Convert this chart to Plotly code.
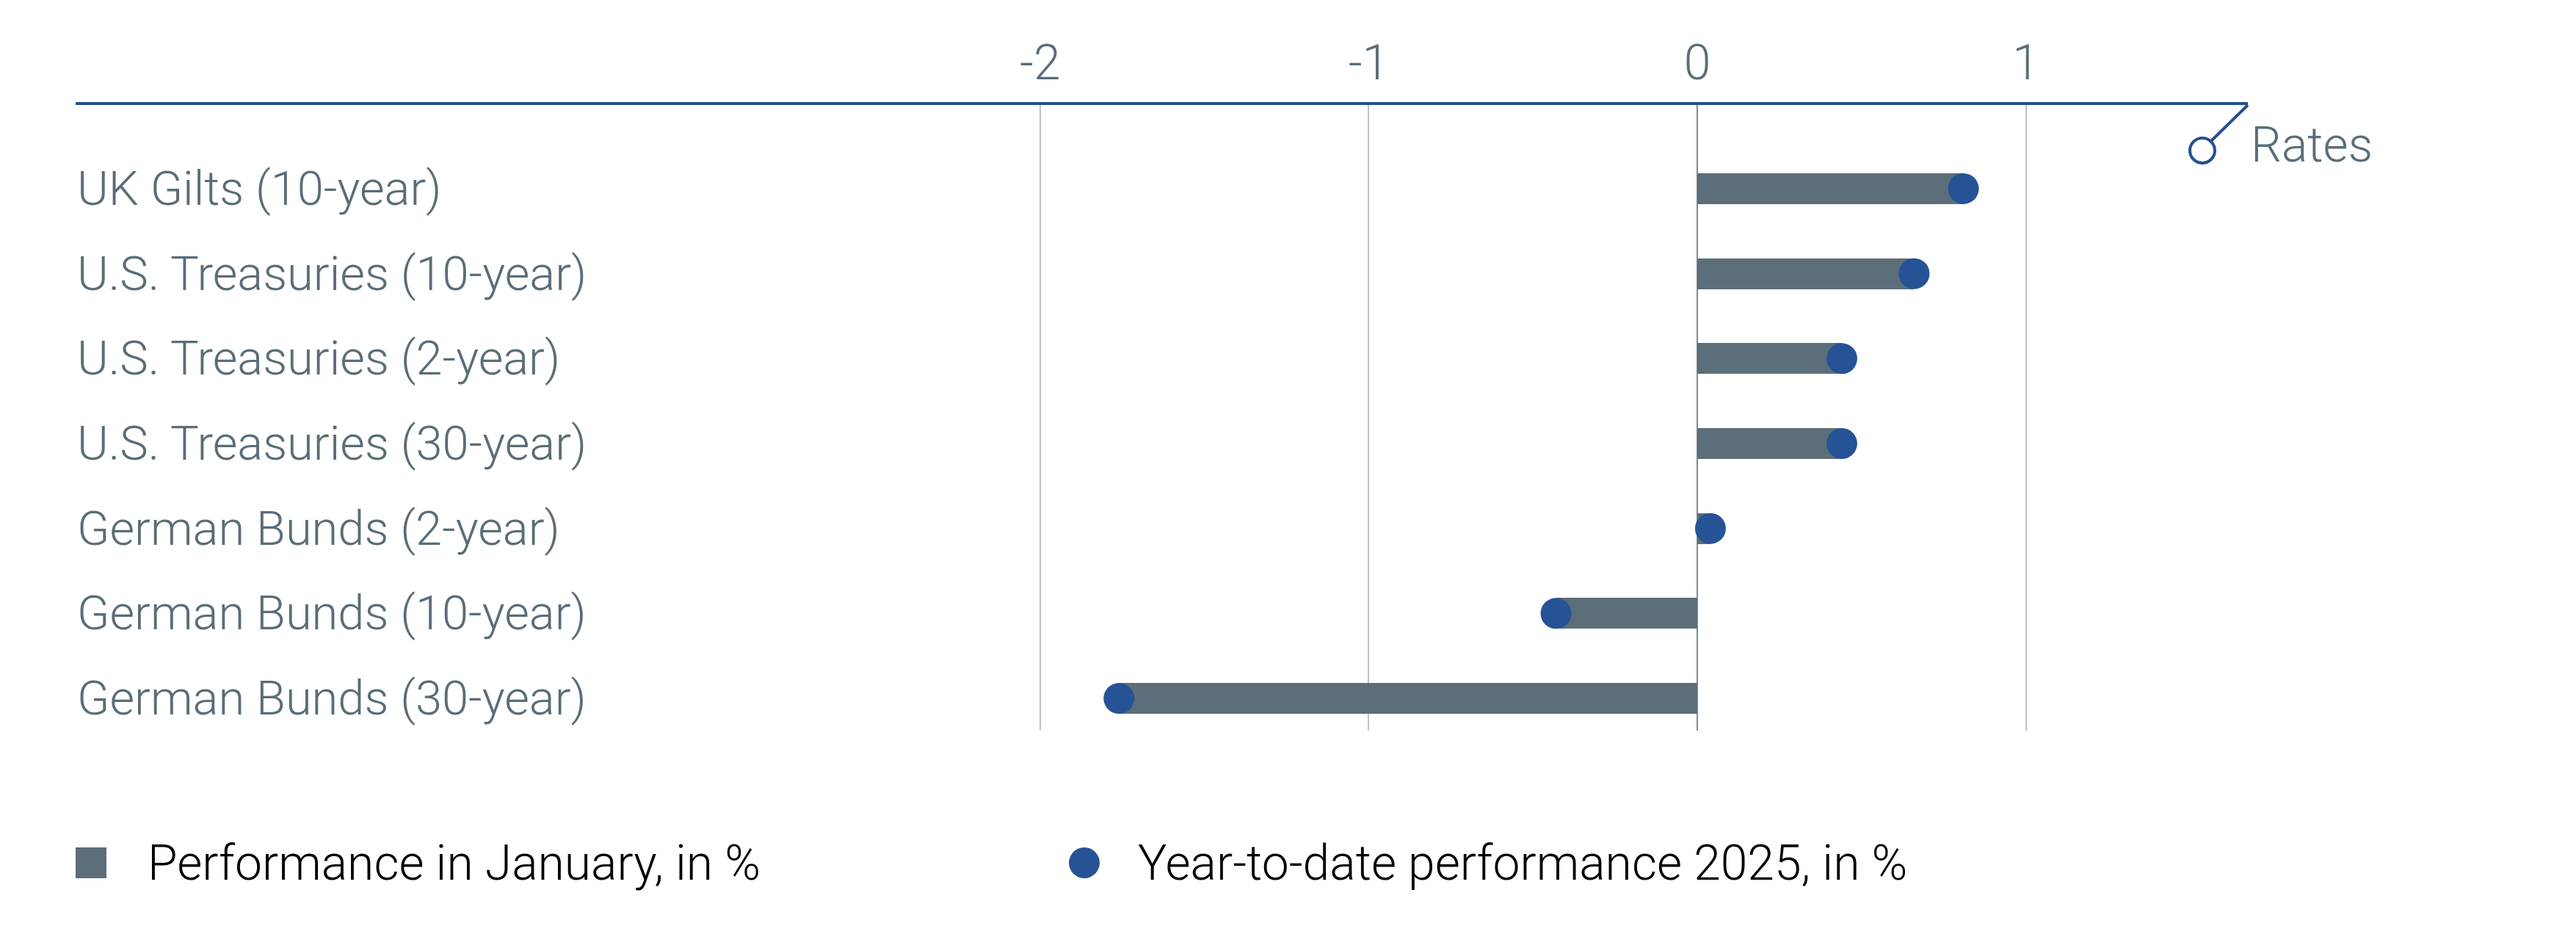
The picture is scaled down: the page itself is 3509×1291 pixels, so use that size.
import plotly.graph_objects as go

# ---------------- data ----------------
categories = [
    "UK Gilts (10-year)",
    "U.S. Treasuries (10-year)",
    "U.S. Treasuries (2-year)",
    "U.S. Treasuries (30-year)",
    "German Bunds (2-year)",
    "German Bunds (10-year)",
    "German Bunds (30-year)",
]
january_perf = [0.81, 0.66, 0.44, 0.44, 0.04, -0.43, -1.76]
ytd_perf = [0.81, 0.66, 0.44, 0.44, 0.04, -0.43, -1.76]
tick_vals = [-2, -1, 0, 1]
tick_text = ["-2", "-1", "0", "1"]
legend_names = ["Performance in January, in %", "Year-to-date performance 2025, in %"]
axis_title = "Rates"

# ---------------- styling ----------------
OFF = 8  # default page body margin
W_FIG, H_FIG = 3509 - 2 * OFF, 1291 - 2 * OFF
L = 103 - OFF
T = 143 - OFF
R = W_FIG - (3062 - OFF)
B = H_FIG - (995 - OFF)
PW, PH = W_FIG - L - R, H_FIG - T - B

BAR_COLOR = "#5b6e79"
DOT_COLOR = "#265396"
AXIS_COLOR = "#24508f"
TEXT_GRAY = "#5a6d78"
FONT = "Roboto, Liberation Sans, Arial, sans-serif"
FS = 66
FS_CAT = 65


def px(x):  # reference-pixel x -> paper
    return (x - OFF - L) / PW


def py(y):  # reference-pixel y -> paper
    return 1 - (y - OFF - T) / PH


# x range so that 0 sits at reference pixel 2312 with 447.6 px per unit
UNIT = 447.6
ZERO = 2312
x_range = [(103 - ZERO) / UNIT, (3062 - ZERO) / UNIT]

fig = go.Figure()
fig.add_trace(go.Bar(
    x=january_perf, y=categories, orientation="h",
    marker=dict(color=BAR_COLOR, line=dict(width=0)),
    width=0.363, name=legend_names[0], showlegend=False,
))
fig.add_trace(go.Scatter(
    x=ytd_perf, y=categories, mode="markers",
    marker=dict(color=DOT_COLOR, size=42, line=dict(width=0)),
    name=legend_names[1], showlegend=False,
))

annotations = []
for c in categories:
    annotations.append(dict(
        x=0, xref="paper", y=c, yref="y", text=c, showarrow=False,
        xanchor="left", yanchor="middle",
        font=dict(family=FONT, size=FS_CAT, color=TEXT_GRAY, weight=300),
    ))

annotations.append(dict(
    x=px(3064), xref="paper", y=py(197), yref="paper", text=axis_title,
    showarrow=False, xanchor="left", yanchor="middle",
    font=dict(family=FONT, size=FS, color=TEXT_GRAY, weight=300),
))
annotations.append(dict(
    x=px(199), xref="paper", y=py(1175), yref="paper", text=legend_names[0],
    showarrow=False, xanchor="left", yanchor="middle",
    font=dict(family=FONT, size=FS, color="#000000", weight=300),
))
annotations.append(dict(
    x=px(1548), xref="paper", y=py(1175), yref="paper", text=legend_names[1],
    showarrow=False, xanchor="left", yanchor="middle",
    font=dict(family=FONT, size=FS, color="#000000", weight=300),
))

shapes = [
    # Rates pointer
    dict(type="line", xref="paper", yref="paper",
         x0=px(3062), y0=py(143), x1=px(3012), y1=py(192),
         line=dict(color=AXIS_COLOR, width=4)),
    dict(type="circle", xref="paper", yref="paper",
         x0=px(2983), y0=py(188), x1=px(3017), y1=py(222),
         line=dict(color=AXIS_COLOR, width=4), fillcolor="white"),
    # legend symbols
    dict(type="rect", xref="paper", yref="paper",
         x0=px(103), y0=py(1154), x1=px(145), y1=py(1196),
         line=dict(width=0), fillcolor=BAR_COLOR),
    dict(type="circle", xref="paper", yref="paper",
         x0=px(1456), y0=py(1154), x1=px(1498), y1=py(1196),
         line=dict(width=0), fillcolor=DOT_COLOR),
]

tickfont = dict(family=FONT, size=FS, color=TEXT_GRAY, weight=300)

fig.update_layout(
    width=W_FIG, height=H_FIG,
    margin=dict(l=L, r=R, t=T, b=B, pad=0),
    paper_bgcolor="white", plot_bgcolor="white",
    showlegend=False,
    font=dict(family=FONT, size=FS, color=TEXT_GRAY),
    xaxis=dict(
        side="top", range=x_range, tickvals=tick_vals, ticktext=tick_text,
        showgrid=True, gridcolor="#bcc3c8", gridwidth=1.5,
        zeroline=True, zerolinecolor="#7d8b94", zerolinewidth=1.5,
        showline=True, linecolor=AXIS_COLOR, linewidth=4,
        ticks="outside", ticklen=5, tickcolor="rgba(0,0,0,0)",
        tickfont=tickfont, fixedrange=True,
    ),
    xaxis2=dict(
        overlaying="x", side="bottom", anchor="y", range=x_range,
        tickvals=tick_vals, ticktext=tick_text,
        showgrid=False, zeroline=False, showline=False,
        ticks="outside", ticklen=9, tickcolor="rgba(0,0,0,0)",
        tickfont=tickfont,
    ),
    yaxis=dict(
        type="category", categoryorder="array", categoryarray=categories,
        range=[6.38, -0.985], showticklabels=False, showgrid=False,
        zeroline=False, showline=False,
    ),
    annotations=annotations,
    shapes=shapes,
    bargap=0,
)

fig.write_html("out.html")
